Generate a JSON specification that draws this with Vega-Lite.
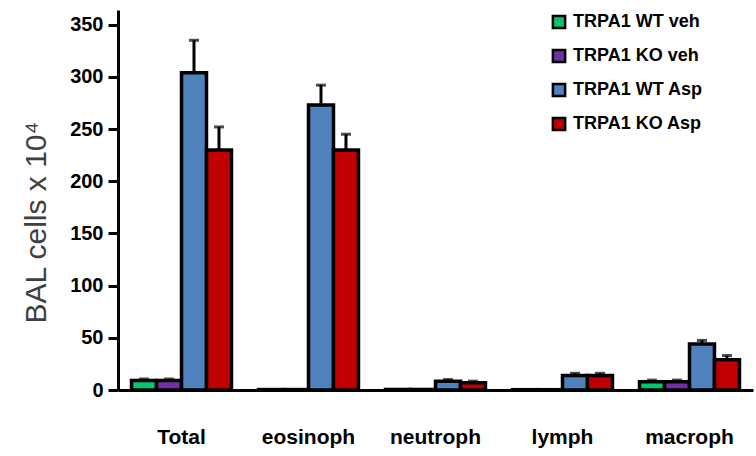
{
  "$schema": "https://vega.github.io/schema/vega-lite/v6.json",
  "autosize": {"type": "none"},
  "width": 635,
  "height": 380,
  "padding": {"left": 118, "top": 10, "right": 3, "bottom": 66},
  "background": "white",
  "config": {
    "view": {"stroke": null},
    "font": "Liberation Sans"
  },
  "data": {
    "values": [
      {"cell": "Total", "group": "TRPA1 WT veh", "value": 9, "upper": 10.5},
      {"cell": "Total", "group": "TRPA1 KO veh", "value": 9, "upper": 10.5},
      {"cell": "Total", "group": "TRPA1 WT Asp", "value": 304, "upper": 335},
      {"cell": "Total", "group": "TRPA1 KO Asp", "value": 230, "upper": 252},
      {"cell": "eosinoph", "group": "TRPA1 WT veh", "value": 0.4, "upper": 0.4},
      {"cell": "eosinoph", "group": "TRPA1 KO veh", "value": 0.4, "upper": 0.4},
      {"cell": "eosinoph", "group": "TRPA1 WT Asp", "value": 273, "upper": 292},
      {"cell": "eosinoph", "group": "TRPA1 KO Asp", "value": 230, "upper": 245},
      {"cell": "neutroph", "group": "TRPA1 WT veh", "value": 0.5, "upper": 0.5},
      {"cell": "neutroph", "group": "TRPA1 KO veh", "value": 0.5, "upper": 0.5},
      {"cell": "neutroph", "group": "TRPA1 WT Asp", "value": 8.5, "upper": 10},
      {"cell": "neutroph", "group": "TRPA1 KO Asp", "value": 7, "upper": 8.5},
      {"cell": "lymph", "group": "TRPA1 WT veh", "value": 0.3, "upper": 0.3},
      {"cell": "lymph", "group": "TRPA1 KO veh", "value": 0.3, "upper": 0.3},
      {"cell": "lymph", "group": "TRPA1 WT Asp", "value": 14, "upper": 16},
      {"cell": "lymph", "group": "TRPA1 KO Asp", "value": 14, "upper": 16},
      {"cell": "macroph", "group": "TRPA1 WT veh", "value": 8, "upper": 9.5},
      {"cell": "macroph", "group": "TRPA1 KO veh", "value": 8, "upper": 9.5},
      {"cell": "macroph", "group": "TRPA1 WT Asp", "value": 44, "upper": 47.5},
      {"cell": "macroph", "group": "TRPA1 KO Asp", "value": 29, "upper": 33}
    ]
  },
  "encoding": {
    "x": {
      "field": "cell", "type": "nominal",
      "sort": ["Total", "eosinoph", "neutroph", "lymph", "macroph"],
      "scale": {"paddingInner": 0.213, "paddingOuter": 0.1065},
      "axis": {
        "title": null, "labelAngle": 0, "labelFontSize": 21, "labelFontWeight": "bold",
        "labelColor": "black", "labelPadding": 36, "ticks": false,
        "domainColor": "black", "domainWidth": 3
      }
    },
    "xOffset": {
      "field": "group", "type": "nominal",
      "sort": ["TRPA1 WT veh", "TRPA1 KO veh", "TRPA1 WT Asp", "TRPA1 KO Asp"],
      "scale": {"paddingInner": 0, "paddingOuter": 0}
    }
  },
  "layer": [
    {
      "mark": {"type": "rule", "color": "black", "strokeWidth": 3},
      "encoding": {
        "y": {"field": "value", "type": "quantitative"},
        "y2": {"field": "upper"}
      }
    },
    {
      "mark": {"type": "tick", "color": "black", "thickness": 3, "size": 10, "orient": "horizontal"},
      "encoding": {
        "y": {"field": "upper", "type": "quantitative"}
      }
    },
    {
      "mark": {"type": "bar", "stroke": "black", "strokeWidth": 3.5, "strokeJoin": "miter"},
      "encoding": {
        "y": {
          "field": "value", "type": "quantitative",
          "scale": {"domain": [0, 364], "nice": false},
          "axis": {
            "values": [0, 50, 100, 150, 200, 250, 300, 350],
            "title": "BAL cells x 10⁴",
            "titleFontSize": 30, "titleFontWeight": "normal", "titleColor": "#404040",
            "titleAngle": 270, "titleAlign": "center", "titleBaseline": "alphabetic",
            "titleX": -73, "titleY": 212,
            "labelFontSize": 20, "labelFontWeight": "bold", "labelColor": "black",
            "labelPadding": 5, "tickSize": 10, "tickWidth": 3, "tickColor": "black",
            "domainColor": "black", "domainWidth": 3, "grid": false
          }
        },
        "color": {
          "field": "group", "type": "nominal",
          "sort": ["TRPA1 WT veh", "TRPA1 KO veh", "TRPA1 WT Asp", "TRPA1 KO Asp"],
          "scale": {
            "domain": ["TRPA1 WT veh", "TRPA1 KO veh", "TRPA1 WT Asp", "TRPA1 KO Asp"],
            "range": ["#00C86E", "#7030A0", "#4F81BD", "#C00000"]
          },
          "legend": {
            "title": null, "orient": "none", "legendX": 432, "legendY": 3,
            "symbolType": "square", "symbolSize": 150, "symbolStrokeColor": "black",
            "symbolStrokeWidth": 2.5, "symbolOpacity": 1,
            "labelFontSize": 18, "labelFontWeight": "bold", "labelColor": "black",
            "labelOffset": 5, "rowPadding": 10, "labelLimit": 300
          }
        }
      }
    }
  ]
}
